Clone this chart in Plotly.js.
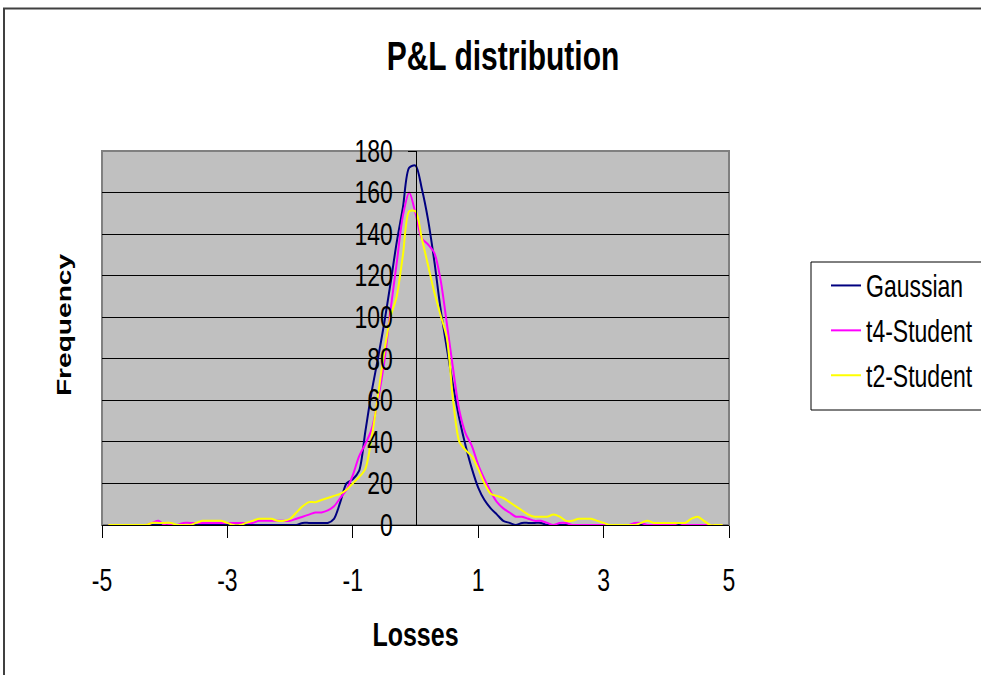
<!DOCTYPE html>
<html>
<head>
<meta charset="utf-8">
<script src="https://cdn.plot.ly/plotly-3.0.1.min.js"></script>
<style>
  html, body { margin: 0; padding: 0; background: #ffffff; }
  #chart { width: 981px; height: 675px; }
</style>
</head>
<body>
<div id="chart"></div>
<script>
// ---- data ----
const losses = [
  -4.9,-4.8,-4.7,-4.6,-4.5,-4.4,-4.3,-4.2,-4.1,-4.0,
  -3.9,-3.8,-3.7,-3.6,-3.5,-3.4,-3.3,-3.2,-3.1,-3.0,
  -2.9,-2.8,-2.7,-2.6,-2.5,-2.4,-2.3,-2.2,-2.1,-2.0,
  -1.9,-1.8,-1.7,-1.6,-1.5,-1.4,-1.3,-1.2,-1.1,-1.0,
  -0.9,-0.8,-0.7,-0.6,-0.5,-0.4,-0.3,-0.2,-0.1,0.0,
  0.1,0.2,0.3,0.4,0.5,0.6,0.7,0.8,0.9,1.0,
  1.1,1.2,1.3,1.4,1.5,1.6,1.7,1.8,1.9,2.0,
  2.1,2.2,2.3,2.4,2.5,2.6,2.7,2.8,2.9,3.0,
  3.1,3.2,3.3,3.4,3.5,3.6,3.7,3.8,3.9,4.0,
  4.1,4.2,4.3,4.4,4.5,4.6,4.7,4.8,4.9
];
const gaussian = [
  0,0,0,0,0,0,0,0,0,0,
  0,0,0,0,0,0,0,0,0,0,
  0,0,0,0,0,0,0,0,0,0,
  0,1,1,1,1,1,3,11,20,22,
  26,45,64,80,97,116,136,153,172,173,
  162,147,127,104,85,67,51,38,27,18,
  12,8,5,2,1,0,1,1,1,1,
  0,0,0,0,0,0,0,0,0,0,
  0,0,0,0,0,0,0,0,0,0,
  0,0,0,0,0,0,0,0,0
];
const t4Student = [
  0,0,0,0,0,0,0,1,2,0,
  0,0,1,1,1,1,1,1,1,1,
  1,1,1,1,2,2,2,2,2,2,
  3,4,5,6,6,7,9,13,17,24,
  33,39,46,60,78,103,126,149,160,150,
  138,135,131,118,97,75,55,44,38,29,
  22,16,11,8,6,4,4,3,2,2,
  1,0,1,1,0,0,0,0,0,0,
  0,0,0,0,1,1,0,0,0,0,
  0,1,0,0,0,0,0,0,0
];
const t2Student = [
  0,0,0,0,0,0,0,1,1,1,
  1,0,0,0,1,2,2,2,2,1,
  0,0,1,2,3,3,3,2,2,3,
  6,9,11,11,12,13,14,15,17,20,
  23,27,42,62,83,100,110,130,151,151,
  138,125,112,101,90,60,40,36,33,27,
  20,15,14,13,11,9,7,5,4,4,
  4,5,4,2,2,3,3,3,2,1,
  0,0,0,0,0,1,2,1,1,1,
  1,1,1,3,4,2,0,0,0
];
const seriesNames = ["Gaussian", "t4-Student", "t2-Student"];
const xTickVals = [-5, -3, -1, 1, 3, 5];
const chartTitle = "P&L distribution";
const xTitle = "Losses";
const yTitle = "Frequency";

// ---- geometry helpers (pixel -> paper) ----
const W = 981, H = 675;
const M = { l: 102, r: 252, t: 151, b: 150, autoexpand: false };
const PW = W - M.l - M.r, PH = H - M.t - M.b;
const px = v => (v - M.l) / PW;
const py = v => (H - M.b - v) / PH;

const FONT = "Liberation Sans, Arial, sans-serif";

function mk(y, name, color, grp) {
  return {
    x: losses, y: y, name: name, type: "scatter", mode: "lines",
    line: { color: color, width: 2, shape: "spline", smoothing: 0.8 },
    legendgroup: grp, hoverinfo: "skip"
  };
}

const data = [
  mk(gaussian, seriesNames[0], "#000080", "g1"),
  mk(t4Student, seriesNames[1], "#ff00ff", "g2"),
  mk(t2Student, seriesNames[2], "#ffff00", "g3"),
  // helper so the centred y axis (y2) is drawn
  { x: [0], y: [0], yaxis: "y2", type: "scatter", mode: "markers",
    marker: { opacity: 0 }, showlegend: false, hoverinfo: "skip" }
];

const layout = {
  width: W, height: H,
  margin: M,
  paper_bgcolor: "#ffffff",
  plot_bgcolor: "#c0c0c0",
  font: { family: FONT, color: "#000000", size: 23 },
  title: {
    text: "<b>" + chartTitle + "</b>",
    font: { family: FONT, size: 30, color: "#000000" },
    xref: "container", x: 503 / W, xanchor: "center",
    yref: "container", y: 1 - 56 / H, yanchor: "middle"
  },
  xaxis: {
    range: [-5, 5], tickmode: "array", tickvals: xTickVals,
    ticktext: xTickVals.map(String),
    showgrid: false, zeroline: false,
    showline: true, linecolor: "#000000", linewidth: 1,
    ticks: "outside", ticklen: 12, tickcolor: "#000000", tickwidth: 1,
    tickfont: { family: FONT, size: 23, color: "#000000" },
    ticklabelstandoff: 23,
    title: { text: "<b>" + xTitle + "</b>", font: { family: FONT, size: 25, color: "#000000" }, standoff: 32 },
    fixedrange: true
  },
  yaxis: {
    range: [0, 180], dtick: 20, tick0: 0,
    showgrid: true, gridcolor: "#000000", gridwidth: 1,
    zeroline: false, showline: false, showticklabels: false, ticks: "",
    fixedrange: true
  },
  yaxis2: {
    overlaying: "y", anchor: "free", position: 0.5,
    range: [0, 180], dtick: 20, tick0: 0,
    showgrid: false, zeroline: false,
    showline: true, linecolor: "#000000", linewidth: 1,
    ticks: "outside", ticklen: 8, tickcolor: "#000000", tickwidth: 1,
    tickfont: { family: FONT, size: 23, color: "#000000" },
    ticklabelstandoff: 10,
    fixedrange: true
  },
  annotations: [
    { text: "<b>" + yTitle + "</b>", xref: "paper", yref: "paper",
      x: px(63), y: py(325), xanchor: "center", yanchor: "middle",
      textangle: -90, showarrow: false,
      font: { family: FONT, size: 21, color: "#000000" } }
  ],
  showlegend: true,
  legend: {
    x: px(826), xanchor: "left", y: py(264), yanchor: "top",
    bgcolor: "rgba(0,0,0,0)", borderwidth: 0,
    font: { family: FONT, size: 23, color: "#000000" },
    traceorder: "grouped", tracegroupgap: 12
  },
  shapes: [
    { type: "rect", xref: "paper", yref: "paper", x0: px(4), x1: px(995), y0: py(690), y1: py(8.5),
      line: { color: "#404040", width: 2 }, fillcolor: "rgba(0,0,0,0)", layer: "below" },
    { type: "rect", xref: "paper", yref: "paper", x0: 0, x1: 1, y0: 0, y1: 1,
      line: { color: "#808080", width: 2 }, fillcolor: "rgba(0,0,0,0)", layer: "below" },
    { type: "rect", xref: "paper", yref: "paper", x0: px(811), x1: px(995), y0: py(410), y1: py(262),
      line: { color: "#000000", width: 1 }, fillcolor: "rgba(255,255,255,0)", layer: "above" }
  ]
};

function stretchText(gd) {
  const S = 1.34;
  gd.querySelectorAll("svg text").forEach(t => {
    if (!t.textContent.trim()) return;
    let b;
    try { b = t.getBBox(); } catch (e) { return; }
    const cx = b.x + b.width / 2, cy = b.y + b.height / 2;
    const rotated = t.classList.contains("ytitle") || !!t.closest(".annotation");
    const tr = t.getAttribute("transform") || "";
    const sc = rotated ? "scale(" + S + ",1)" : "scale(1," + S + ")";
    t.setAttribute("transform", tr + " translate(" + cx + "," + cy + ") " + sc + " translate(" + (-cx) + "," + (-cy) + ")");
  });
}

Plotly.newPlot("chart", data, layout, { displayModeBar: false, staticPlot: true })
  .then(gd => stretchText(gd));
</script>
</body>
</html>
